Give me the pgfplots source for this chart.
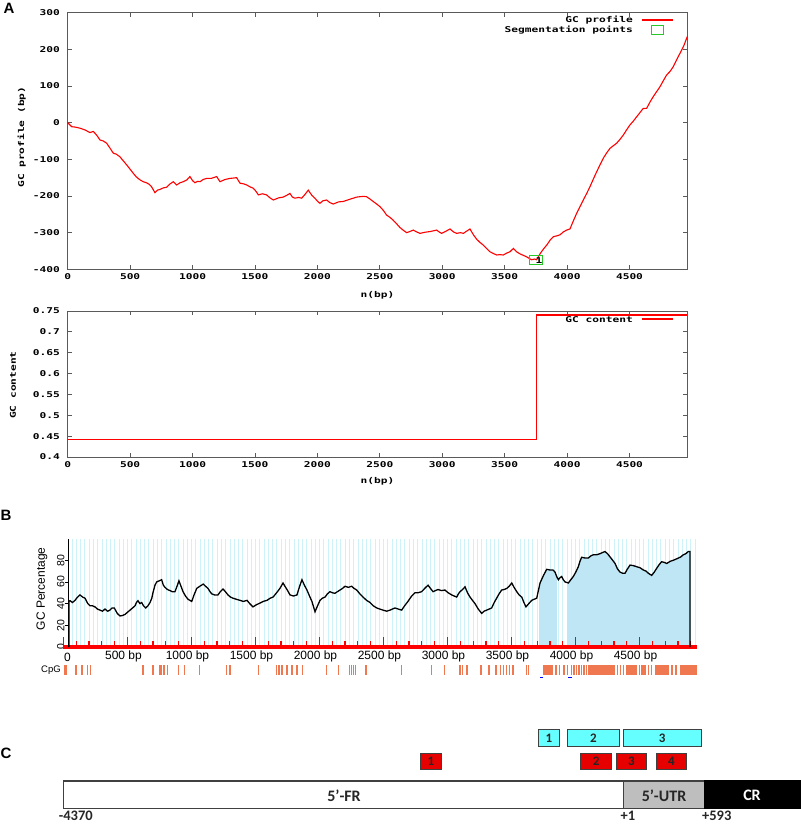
\documentclass[border=0pt]{standalone}
\usepackage{fontspec}
\setmainfont{Liberation Sans}
\newfontfamily\gnu{DejaVu Sans Mono}[FakeStretch=1.4]
\newfontfamily\cali{Carlito}
\usepackage{pgfplots}
\pgfplotsset{compat=1.18}
\definecolor{gcred}{RGB}{255,0,0}
\definecolor{seggreen}{RGB}{40,200,40}
\definecolor{framegray}{RGB}{90,90,90}
\definecolor{gridcyan}{RGB}{205,242,248}
\definecolor{islandblue}{RGB}{190,230,245}
\definecolor{cpg}{RGB}{240,120,80}
\definecolor{boxcyan}{RGB}{102,255,255}
\definecolor{boxred}{RGB}{230,0,0}
\definecolor{utrgray}{RGB}{190,190,190}
\newcommand\gf{\gnu\bfseries\fontsize{8}{9.5}\selectfont}
\newcommand\bfnt{\fontsize{12}{14}\selectfont}
\newcommand\cfont{\cali\bfseries\fontsize{16}{18}\selectfont}
\newcommand\cnum{\cali\bfseries\fontsize{14.5}{16}\selectfont}
\newcommand\cbox{\cali\bfseries\fontsize{13}{15}\selectfont}
\begin{document}
\begin{tikzpicture}
\useasboundingbox (0pt,0pt) rectangle (800pt,-824pt);

% ---------------- Panel A, top ----------------
\begin{axis}[
  at={(67.7pt,-269.3pt)}, anchor=south west,
  scale only axis, width=619.6pt, height=256.6pt,
  xmin=0, xmax=4963, ymin=-400, ymax=300, clip=false,
  /pgf/number format/assume math mode=true,
  xtick={0,500,...,4500},
  xticklabels={0,500,1000,1500,2000,2500,3000,3500,4000,4500},
  ytick={-400,-300,-200,-100,0,100,200,300},
  yticklabels={-400,-300,-200,-100,0,100,200,300},
  tick align=inside, major tick length=4pt,
  axis line style={framegray, line width=0.9pt},
  tick style={framegray, line width=0.8pt},
  tick label style={font=\gf},
  xticklabel style={anchor=north, inner sep=0pt, yshift=-4.2pt},
  yticklabel style={anchor=east, inner sep=0pt, xshift=-7.7pt},
  xlabel={n(bp)}, xlabel style={at={(axis description cs:0.5,-0.1)}, anchor=center, font=\gf},
  ylabel={GC profile (bp)}, ylabel style={at={(axis description cs:-0.0742,0.515)}, anchor=center, font=\gf},
]
\addplot[gcred, line width=1.1pt]
coordinates {
(0,0) (32,-11) (60,-12) (98,-15) (140,-20) (178,-27) (205,-24) (230,-33) (258,-47) (285,-50) (312,-56)
(340,-70) (365,-83) (390,-86) (418,-93) (445,-104) (472,-115) (500,-127) (525,-138) (550,-148)
(579,-156) (605,-161) (632,-164) (652,-168) (672,-175) (699,-191) (720,-184) (739,-182) (765,-178)
(792,-176) (820,-167) (846,-161) (872,-170) (900,-164) (926,-161) (955,-156) (979,-147) (1000,-158)
(1019,-164) (1040,-160) (1060,-161) (1085,-155) (1113,-152) (1150,-152) (1193,-147) (1220,-161)
(1260,-155) (1300,-152) (1330,-151) (1353,-150) (1380,-165) (1410,-167) (1434,-170) (1460,-175)
(1487,-179) (1510,-188) (1527,-197) (1560,-194) (1593,-197) (1620,-205) (1647,-211) (1690,-205)
(1727,-203) (1755,-198) (1780,-193) (1800,-203) (1820,-206) (1850,-204) (1874,-206) (1900,-196)
(1927,-184) (1955,-198) (1980,-206) (2000,-214) (2020,-220) (2045,-213) (2074,-211) (2100,-218)
(2127,-222) (2170,-216) (2207,-215) (2250,-210) (2287,-206) (2315,-203) (2341,-202) (2370,-201)
(2394,-202) (2420,-208) (2447,-215) (2475,-222) (2501,-229) (2530,-240) (2554,-252) (2580,-258)
(2607,-266) (2635,-276) (2661,-286) (2690,-294) (2715,-300) (2740,-297) (2768,-293) (2795,-298)
(2822,-302) (2860,-299) (2902,-297) (2930,-295) (2955,-293) (2975,-298) (2995,-302) (3030,-296)
(3062,-290) (3090,-298) (3115,-302) (3145,-300) (3169,-302) (3195,-296) (3222,-290) (3250,-306)
(3276,-318) (3300,-326) (3329,-334) (3355,-343) (3382,-352) (3410,-357) (3436,-361) (3462,-360)
(3489,-361) (3515,-356) (3543,-352) (3570,-343) (3595,-352) (3623,-358) (3650,-362) (3676,-366)
(3700,-371) (3716,-374) (3740,-372) (3756,-374) (3783,-358) (3810,-345) (3837,-334) (3865,-320)
(3890,-311) (3915,-309) (3943,-306) (3970,-298) (3997,-293) (4023,-290) (4050,-268) (4077,-247)
(4105,-228) (4130,-211) (4157,-193) (4183,-175) (4210,-154) (4237,-134) (4265,-114) (4290,-97)
(4318,-82) (4344,-70) (4370,-63) (4397,-56) (4425,-45) (4450,-34) (4478,-19) (4504,-6) (4530,4)
(4557,16) (4585,28) (4610,39) (4637,39) (4662,55) (4690,71) (4718,85) (4744,98) (4770,114)
(4797,130) (4825,140) (4851,153) (4878,172) (4904,189) (4935,210) (4963,235)
};
\addplot[only marks, mark=square, mark size=5pt, seggreen,
  mark options={xscale=1.25, yscale=0.93, line width=0.8pt}]
coordinates {(3751,-374)};
\node[font=\gf] at (axis cs:3775,-376) {1};
% key
\addplot[draw=gcred, line width=1.2pt, forget plot] coordinates {(4598,280) (4851,280)};
\node[font=\gf, anchor=east, inner sep=0pt] at (axis cs:4528,280) {GC profile};
\addplot[only marks, mark=square, mark size=5pt, seggreen, forget plot,
  mark options={xscale=1.16, yscale=0.86, line width=0.8pt}] coordinates {(4724,252.8)};
\node[font=\gf, anchor=east, inner sep=0pt] at (axis cs:4528,252.8) {Segmentation points};
\end{axis}

% ---------------- Panel A, bottom ----------------
\begin{axis}[
  at={(67.7pt,-457pt)}, anchor=south west,
  scale only axis, width=619.6pt, height=146pt,
  xmin=0, xmax=4963, ymin=0.4, ymax=0.75, clip=false,
  /pgf/number format/assume math mode=true,
  xtick={0,500,...,4500},
  xticklabels={0,500,1000,1500,2000,2500,3000,3500,4000,4500},
  ytick={0.4,0.45,0.5,0.55,0.6,0.65,0.7,0.75},
  yticklabels={0.4,0.45,0.5,0.55,0.6,0.65,0.7,0.75},
  tick align=inside, major tick length=4pt,
  axis line style={framegray, line width=0.9pt},
  tick style={framegray, line width=0.8pt},
  tick label style={font=\gf},
  xticklabel style={anchor=north, inner sep=0pt, yshift=-4.2pt},
  yticklabel style={anchor=east, inner sep=0pt, xshift=-7.7pt},
  xlabel={n(bp)}, xlabel style={at={(axis description cs:0.5,-0.169)}, anchor=center, font=\gf},
  ylabel={GC content}, ylabel style={at={(axis description cs:-0.0883,0.493)}, anchor=center, font=\gf},
]
\addplot[gcred, line width=1.1pt]
coordinates {(0,0.441) (3752,0.441) (3752,0.7404) (4963,0.7404)};
% key
\addplot[draw=gcred, line width=1.2pt, forget plot] coordinates {(4598,0.7310) (4851,0.7310)};
\node[font=\gf, anchor=east, inner sep=0pt] at (axis cs:4528,0.7301) {GC content};
\end{axis}

% ---------------- Panel B ----------------
\begin{axis}[
  at={(68.6pt,-647pt)}, anchor=south west,
  scale only axis, width=628.5pt, height=108.5pt,
  xmin=40, xmax=4950, ymin=0, ymax=100, clip=false,
  /pgf/number format/assume math mode=true,
  axis x line*=bottom, axis y line*=left,
  x axis line style={draw=none},
  y axis line style={black, line width=1pt},
  xtick={500,1000,...,4500},
  xticklabels={500 bp,1000 bp,1500 bp,2000 bp,2500 bp,3000 bp,3500 bp,4000 bp,4500 bp},
  xtick style={draw=none},
  ytick={0,20,40,60,80}, yticklabels={0,20,40,60,80},
  ytick style={black, line width=0.8pt},
  tick align=outside, major tick length=4pt,
  xticklabel style={font=\bfnt, anchor=north, inner sep=0pt, xshift=-4pt},
  yticklabel style={font=\fontsize{10.5}{12}\selectfont, rotate=90, anchor=south, inner sep=0pt},
  extra x ticks={0,33.333,...,4950}, extra x tick labels={},
  extra x tick style={grid=major, major grid style={gridcyan, line width=0.7pt}, xtick style={draw=none}},
  ylabel={GC Percentage}, ylabel style={at={(axis description cs:-0.0423,0.535)}, anchor=center, font=\bfnt},
]
% CpG island shading
\addplot[fill=islandblue, draw=none] coordinates {
(3715,0) (3715,57) (3723,59) (3775,71.6) (3824,71) (3840,69) (3855,65) (3855,0)} -- cycle;
\addplot[fill=islandblue, draw=none] coordinates {
(3934,0) (3934,59) (3944,59) (3983,65) (4022,74) (4048,82.7) (4100,82) (4139,85) (4191,86)
(4230,88) (4270,83) (4309,77) (4348,69) (4387,68) (4426,75.5) (4478,74) (4530,71) (4569,68)
(4595,66) (4634,72.5) (4673,78.6) (4713,77) (4765,80) (4804,82) (4842,85) (4881,88) (4895,88) (4895,0)} -- cycle;
% red ruler
\addplot[red, line width=4.5pt] coordinates {(0,0) (4950,0)};
\addplot[red, ycomb, line width=1.2pt] coordinates {
(0,9.2) (100,5.1) (200,5.1) (300,5.1) (400,5.1) (500,9.2) (600,5.1) (700,5.1) (800,5.1) (900,5.1)
(1000,9.2) (1100,5.1) (1200,5.1) (1300,5.1) (1400,5.1) (1500,9.2) (1600,5.1) (1700,5.1) (1800,5.1) (1900,5.1)
(2000,9.2) (2100,5.1) (2200,5.1) (2300,5.1) (2400,5.1) (2500,9.2) (2600,5.1) (2700,5.1) (2800,5.1) (2900,5.1)
(3000,9.2) (3100,5.1) (3200,5.1) (3300,5.1) (3400,5.1) (3500,9.2) (3600,5.1) (3700,5.1) (3800,5.1) (3900,5.1)
(4000,9.2) (4100,5.1) (4200,5.1) (4300,5.1) (4400,5.1) (4500,9.2) (4600,5.1) (4700,5.1) (4800,5.1) (4900,5.1)};
% GC percentage curve
\addplot[black, line width=1.3pt] coordinates {
(42,0) (42,42) (51,42.7) (70,41) (90,43) (110,46) (129,48) (150,46) (168,45) (190,40) (207,38)
(226,38) (246,37) (265,35) (285,34) (305,33) (324,35) (345,33) (363,34) (380,36) (397,36) (420,31)
(441,28.6) (460,29) (480,30) (500,32) (520,34) (540,36) (559,38) (570,41) (582,42.7) (597,40)
(611,41) (625,38) (642,36) (660,38) (676,41) (690,45) (699,50) (715,57) (728,60) (748,61) (767,62)
(780,57) (793,55) (812,53) (832,52) (850,51) (871,51) (887,56) (902,61) (918,56) (934,51) (953,47)
(973,44) (1002,42) (1020,48) (1041,54) (1065,56) (1092,58) (1110,56) (1129,54) (1145,51) (1158,49)
(1180,48) (1207,48) (1225,51) (1246,53.5) (1265,51) (1285,48) (1305,46) (1324,45) (1350,44)
(1379,43) (1405,42) (1434,43) (1455,40) (1480,37) (1508,39) (1535,40.5) (1560,42) (1590,43)
(1615,45) (1637,46) (1665,50) (1691,54) (1715,59) (1730,56) (1746,53) (1770,48) (1797,47) (1824,48)
(1845,56) (1863,62) (1882,57) (1902,52.5) (1922,47) (1941,42) (1965,32.5) (1985,38) (2004,43)
(2023,45) (2043,46) (2062,49) (2082,51) (2100,50) (2121,49.5) (2140,51) (2160,52.5) (2180,54)
(2199,56) (2225,55) (2252,56) (2270,54) (2291,52.5) (2315,49) (2340,46) (2368,43) (2395,41)
(2420,38) (2447,36) (2470,35) (2496,34) (2525,33) (2551,34) (2570,35) (2590,36) (2615,35)
(2642,34) (2665,38) (2691,42) (2720,47) (2746,50) (2770,50) (2798,51) (2822,54) (2848,57)
(2867,54) (2887,51) (2906,52) (2926,53) (2952,52) (2980,52.5) (3005,50) (3033,48) (3052,47)
(3072,46) (3085,49) (3098,51) (3118,53) (3137,55.5) (3156,50) (3176,46) (3195,43) (3215,40)
(3240,35) (3267,31) (3286,33) (3306,34) (3326,35) (3345,36) (3365,41) (3384,45) (3403,49)
(3423,52.5) (3443,53) (3463,54) (3482,56) (3502,59) (3520,55) (3541,51) (3560,48) (3580,46)
(3597,41) (3613,37) (3635,40) (3658,43) (3677,44) (3697,45) (3710,52) (3723,59) (3750,66)
(3775,71.6) (3800,71) (3824,71) (3840,69) (3853,65) (3866,62) (3880,64) (3892,65) (3905,62)
(3918,60) (3944,59) (3963,62) (3983,65) (4002,69) (4022,74) (4035,79) (4048,82.7) (4075,82)
(4100,82) (4120,84) (4139,85) (4165,85) (4191,86) (4210,87) (4230,88) (4250,86) (4270,83)
(4290,80) (4309,77) (4328,72) (4348,69) (4368,68) (4387,68) (4406,72) (4426,75.5) (4452,75)
(4478,74) (4505,73) (4530,71) (4550,70) (4569,68) (4582,67) (4595,66) (4615,69) (4634,72.5)
(4654,76) (4673,78.6) (4693,78) (4713,77) (4740,79) (4765,80) (4785,81) (4804,82) (4822,83)
(4842,85) (4862,86) (4881,88) (4895,88) (4895,0)};
% CpG sites
\addplot[only marks, mark=|, mark size=4.6pt, cpg, mark options={line width=1.1pt}] coordinates {
(6,-21.2) (20,-21.2) (98,-21.2) (145,-21.2) (186,-21.2) (211,-21.2) (621,-21.2) (699,-21.2)
(748,-21.2) (762,-21.2) (785,-21.2) (814,-21.2) (897,-21.2) (944,-21.2) (1066,-21.2) (1275,-21.2)
(1301,-21.2) (1522,-21.2) (1666,-21.2) (1684,-21.2) (1707,-21.2) (1746,-21.2) (1785,-21.2)
(1824,-21.2) (1867,-21.2) (2056,-21.2) (2147,-21.2) (2234,-21.2) (2250,-21.2) (2266,-21.2)
(2283,-21.2) (2363,-21.2) (2642,-21.2) (2877,-21.2) (2980,-21.2) (3098,-21.2) (3116,-21.2)
(3152,-21.2) (3262,-21.2) (3324,-21.2) (3379,-21.2) (3414,-21.2) (3438,-21.2) (3461,-21.2)
(3484,-21.2) (3512,-21.2) (3619,-21.2) (3631,-21.2) (3848,-21.2) (3873,-21.2) (3910,-21.2)
(3938,-21.2) (3970,-21.2) (3988,-21.2) (4008,-21.2) (4027,-21.2) (4047,-21.2) (4066,-21.2)
(4086,-21.2) (4328,-21.2) (4352,-21.2) (4375,-21.2) (4500,-21.2) (4569,-21.2) (4595,-21.2)
(4754,-21.2) (4785,-21.2)};
\addplot[fill=cpg, draw=none] coordinates {(3748,-16.9) (3822,-16.9) (3822,-25.6) (3748,-25.6)} -- cycle;
\addplot[fill=cpg, draw=none] coordinates {(4098,-16.9) (4309,-16.9) (4309,-25.6) (4098,-25.6)} -- cycle;
\addplot[fill=cpg, draw=none] coordinates {(4398,-16.9) (4480,-16.9) (4480,-25.6) (4398,-25.6)} -- cycle;
\addplot[fill=cpg, draw=none] coordinates {(4512,-16.9) (4551,-16.9) (4551,-25.6) (4512,-25.6)} -- cycle;
\addplot[fill=cpg, draw=none] coordinates {(4621,-16.9) (4730,-16.9) (4730,-25.6) (4621,-25.6)} -- cycle;
\addplot[fill=cpg, draw=none] coordinates {(4813,-16.9) (4949,-16.9) (4949,-25.6) (4813,-25.6)} -- cycle;
\addplot[only marks, mark=-, mark size=1.6pt, blue, mark options={line width=0.8pt}] coordinates {(3736,-27.6) (3957,-27.6)};
\node[font=\bfnt, anchor=north, inner sep=0pt] at (axis cs:31,-5.5) {0};
\node[font=\fontsize{9.5}{11}\selectfont] at (axis cs:-98,-21.2) {CpG};
\end{axis}

% ---------------- Panel C ----------------
\begin{axis}[
  at={(0pt,-824pt)}, anchor=south west,
  scale only axis, width=800pt, height=134pt,
  xmin=0, xmax=800, ymin=-824, ymax=-690,
  hide axis, clip=false,
]
\addplot[draw=black!75, line width=1.2pt, fill=white] coordinates {(63.3,-781) (623.3,-781) (623.3,-808.3) (63.3,-808.3)} -- cycle;
\addplot[draw=black!75, line width=1.2pt, fill=utrgray] coordinates {(623.3,-781) (705,-781) (705,-808.3) (623.3,-808.3)} -- cycle;
\addplot[draw=black, line width=1.2pt, fill=black] coordinates {(705,-781) (800,-781) (800,-808.3) (705,-808.3)} -- cycle;
\addplot[draw=black!75, line width=1pt, fill=boxcyan] coordinates {(538.3,-729.3) (559.3,-729.3) (559.3,-746.7) (538.3,-746.7)} -- cycle;
\addplot[draw=black!75, line width=1pt, fill=boxcyan] coordinates {(567.7,-729.3) (619.3,-729.3) (619.3,-746.7) (567.7,-746.7)} -- cycle;
\addplot[draw=black!75, line width=1pt, fill=boxcyan] coordinates {(623.3,-729.3) (701,-729.3) (701,-746.7) (623.3,-746.7)} -- cycle;
\addplot[draw=black!75, line width=1pt, fill=boxred] coordinates {(420,-753.3) (441.7,-753.3) (441.7,-769.3) (420,-769.3)} -- cycle;
\addplot[draw=black!75, line width=1pt, fill=boxred] coordinates {(580.7,-753.3) (611.7,-753.3) (611.7,-769.3) (580.7,-769.3)} -- cycle;
\addplot[draw=black!75, line width=1pt, fill=boxred] coordinates {(616,-753.3) (646.7,-753.3) (646.7,-769.3) (616,-769.3)} -- cycle;
\addplot[draw=black!75, line width=1pt, fill=boxred] coordinates {(656,-753.3) (686.7,-753.3) (686.7,-769.3) (656,-769.3)} -- cycle;
\node[font=\cbox, text=black!85] at (axis cs:548.8,-738) {1};
\node[font=\cbox, text=black!85] at (axis cs:593.5,-738) {2};
\node[font=\cbox, text=black!85] at (axis cs:662.2,-738) {3};
\node[font=\cbox, text=black!85] at (axis cs:430.8,-761.3) {1};
\node[font=\cbox, text=black!85] at (axis cs:596.2,-761.3) {2};
\node[font=\cbox, text=black!85] at (axis cs:631.3,-761.3) {3};
\node[font=\cbox, text=black!85] at (axis cs:671.3,-761.3) {4};
\node[font=\cfont, text=black!85] at (axis cs:344,-795.5) {5’-FR};
\node[font=\cfont, text=black!85] at (axis cs:664,-795.5) {5’-UTR};
\node[font=\cfont, text=white] at (axis cs:752,-795.5) {CR};
\node[font=\cnum, text=black!85, inner sep=0pt] at (axis cs:75.8,-816) {-4370};
\node[font=\cnum, text=black!85, inner sep=0pt] at (axis cs:628,-816) {+1};
\node[font=\cnum, text=black!85, inner sep=0pt] at (axis cs:716.7,-816) {+593};
\end{axis}

\node[font=\bfseries\fontsize{15}{15}\selectfont] at (9pt,-8.7pt) {A};
\node[font=\bfseries\fontsize{15}{15}\selectfont] at (6pt,-515pt) {B};
\node[font=\bfseries\fontsize{15}{15}\selectfont] at (6pt,-753.5pt) {C};
\end{tikzpicture}
\end{document}
